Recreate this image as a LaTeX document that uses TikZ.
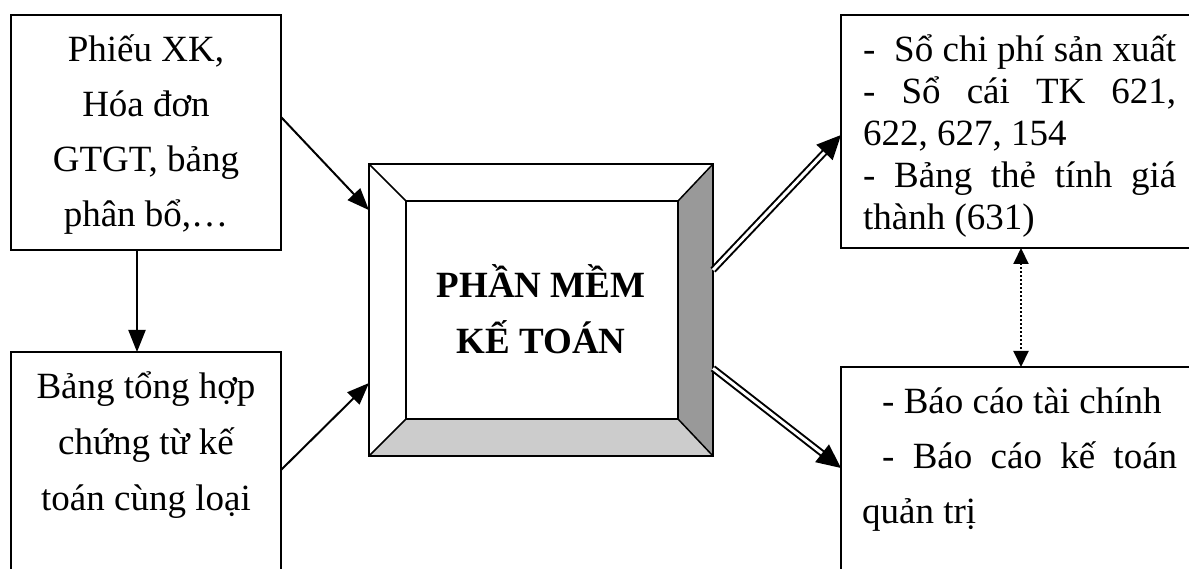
\documentclass[tikz,border=0pt]{standalone}
\usepackage{fontspec}
\setmainfont{Liberation Serif}
\usetikzlibrary{arrows.meta,calc}
\definecolor{darkside}{HTML}{999999}
\definecolor{lightside}{HTML}{CCCCCC}
\begin{document}
\begin{tikzpicture}[x=1pt,y=-1pt,
  box/.style={draw, line width=2pt, inner sep=0pt, outer sep=0pt},
  txt/.style={inner sep=0pt, font=\fontsize{37}{55}\selectfont, align=center},
  txtl/.style={inner sep=0pt, font=\fontsize{37}{42}\selectfont, align=left},
  arr/.style={line width=2pt, -{Triangle[length=22pt,width=17pt]}},
  dbl/.style={double, double distance=3pt, line width=2pt, -{Triangle[length=24pt,width=22pt]}},
  dotarr/.style={line width=2pt, dash pattern=on 2pt off 2pt, {Triangle[length=16pt,width=15pt]}-{Triangle[length=16pt,width=15pt]}}
]
\useasboundingbox (0,0) rectangle (1189,569);
\begin{scope}
\clip (0,0) rectangle (1189,569);
% left boxes
\node[box, minimum width=270pt, minimum height=235pt] (A) at (146,132.5) {};
\node[txt, anchor=base] (At) at (146,227) {Phiếu XK,\\Hóa đơn\\GTGT, bảng\\phân bổ,…};
\node[box, minimum width=270pt, minimum height=260pt, anchor=north] (B) at (146,352) {};
\node[txt, font=\fontsize{37}{56}\selectfont, anchor=base] (Bt) at (146,510) {Bảng tổng hợp\\chứng từ kế\\toán cùng loại};
% central bevel box
\node[inner sep=0pt, outer sep=0pt, minimum width=344pt, minimum height=292pt] (S) at (541,310) {};
\coordinate (INW) at ($(S.north west)+(37,37)$);
\coordinate (INE) at ($(S.north east)+(-35,37)$);
\coordinate (ISW) at ($(S.south west)+(37,-37)$);
\coordinate (ISE) at ($(S.south east)+(-35,-37)$);
\fill[darkside] (S.north east) -- (S.south east) -- (ISE) -- (INE) -- cycle;
\fill[lightside] (S.south west) -- (S.south east) -- (ISE) -- (ISW) -- cycle;
\draw[line width=2pt] (S.north west) rectangle (S.south east);
\draw[line width=1.5pt] (INW) rectangle (ISE);
\draw[line width=1.5pt] (S.north west) -- (INW) (S.north east) -- (INE) (S.south west) -- (ISW) (S.south east) -- (ISE);
\node[inner sep=0pt, font=\bfseries\fontsize{37}{56}\selectfont, align=center, anchor=base] (St) at (541,353) {PHẦN MỀM\\KẾ TOÁN};
% right boxes
\node[box, minimum width=400pt, minimum height=233pt, anchor=north west] (C) at (841,15) {};
\node[txtl, anchor=base west] (Ct) at (863,230) {\makebox[313pt][s]{-\ \ Sổ chi phí sản xuất}\\\makebox[313pt][s]{- Sổ cái TK 621,}\\622, 627, 154\\\makebox[313pt][s]{- Bảng thẻ tính giá}\\thành (631)};
\node[box, minimum width=400pt, minimum height=260pt, anchor=north west] (D) at (841,367) {};
\node[txt, align=left, anchor=base west] (Dt) at (862,523) {\hspace*{20pt}- Báo cáo tài chính\\\makebox[315pt][s]{\hspace*{20pt}- Báo cáo kế toán}\\quản trị};
% connectors
\draw[arr] ($(A.north east)!0.434!(A.south east)$) -- ($(S.north west)!0.158!(S.south west)$);
\draw[arr] ($(B.north east)+(0,118)$) -- ($(S.north west)!0.75!(S.south west)$);
\draw[arr] ([xshift=-9pt]A.south) -- ([xshift=-9pt]B.north);
\draw[dbl] ($(S.north east)!0.363!(S.south east)$) -- ($(C.north west)+(0,120)$);
\draw[dbl] ($(S.north east)!0.70!(S.south east)$) -- ($(D.north west)+(0,101)$);
\draw[dotarr] ($(C.south west)+(180,0)$) -- ($(D.north west)+(180,0)$);
\end{scope}
\end{tikzpicture}
\end{document}
